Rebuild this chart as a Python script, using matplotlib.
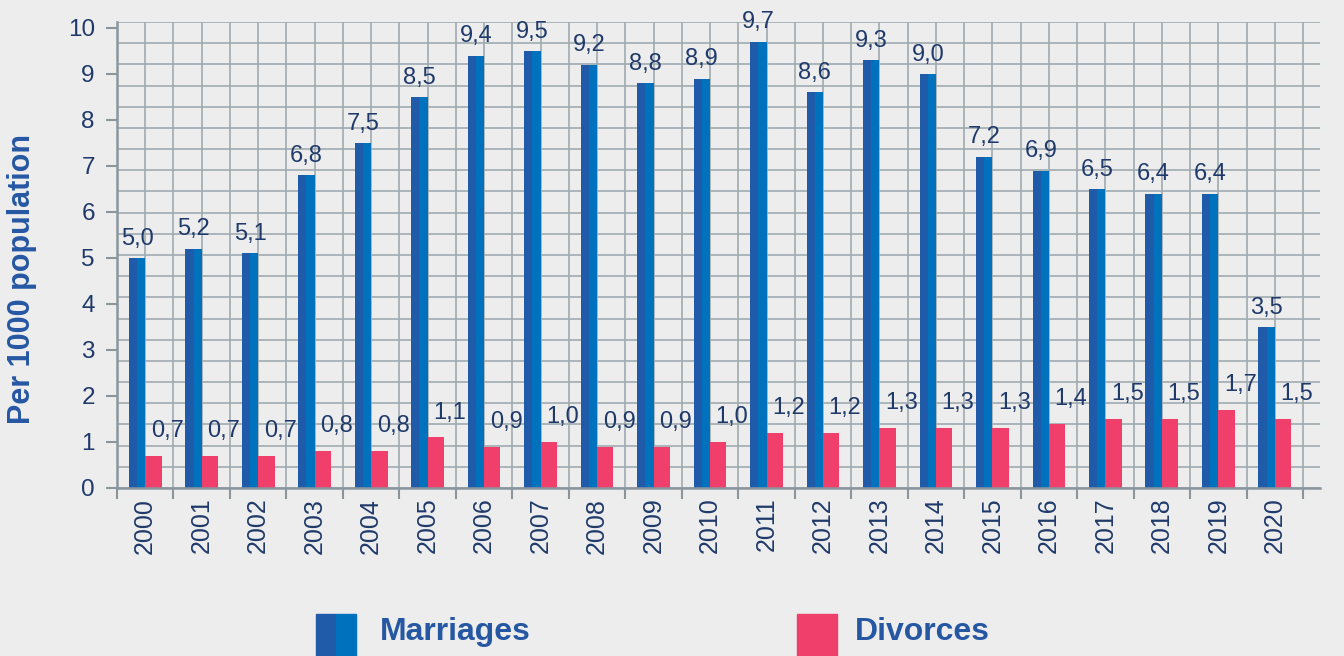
import numpy as np
import matplotlib.pyplot as plt
from matplotlib.patches import Rectangle

years = [str(y) for y in range(2000, 2021)]
marriages = [5.0, 5.2, 5.1, 6.8, 7.5, 8.5, 9.4, 9.5, 9.2, 8.8, 8.9,
             9.7, 8.6, 9.3, 9.0, 7.2, 6.9, 6.5, 6.4, 6.4, 3.5]
divorces = [0.7, 0.7, 0.7, 0.8, 0.8, 1.1, 0.9, 1.0, 0.9, 0.9, 1.0,
            1.2, 1.2, 1.3, 1.3, 1.3, 1.4, 1.5, 1.5, 1.7, 1.5]

plt.rcParams['font.family'] = ['Liberation Sans', 'DejaVu Sans']

bg = '#ededed'
blue_l, blue_r = '#205ba9', '#0071bc'
pink = '#f03f6a'
navy = '#1f3a6a'
grey = '#8a969c'

fig = plt.figure(figsize=(13.44, 6.56), dpi=100, facecolor=bg)
ax = fig.add_axes([117 / 1344, 1 - 488 / 656, (1320 - 117) / 1344, (488 - 22) / 656])
ax.set_facecolor(bg)

x = np.arange(len(years))
w = 0.29
ymax = 10.13

# graph-paper grid
for gx in np.arange(-0.5, 20.8, 0.5):
    ax.axvline(gx, color='#a0aaaf', lw=1.2, zorder=0)
for gy in np.linspace(0, ymax, 23):
    ax.axhline(gy, color='#a0aaaf', lw=1.2, zorder=0)

ax.bar(x - w / 2, marriages, w, color=blue_r, zorder=2)
ax.bar(x - w * 0.75, marriages, w / 2, color=blue_l, zorder=3)
ax.bar(x + w / 2, divorces, w, color=pink, zorder=2)

for xi, m, d in zip(x, marriages, divorces):
    ax.annotate(f'{m:.1f}'.replace('.', ','), (xi - w / 2, m), xytext=(0, 6),
                textcoords='offset points', ha='center', va='bottom',
                fontsize=17, color=navy, zorder=4)
    ax.annotate(f'{d:.1f}'.replace('.', ','), (xi + w / 2, d), xytext=(10, 10),
                textcoords='offset points', ha='center', va='bottom',
                fontsize=17, color=navy, zorder=4)

ax.set_xlim(-0.5, 20.8)
ax.set_ylim(0, ymax)
ax.set_yticks(range(11))
ax.set_yticklabels([str(i) for i in range(11)], fontsize=17.5, color=navy)
ax.set_xticks(x)
ax.set_xticklabels(years, rotation=90, fontsize=18, color=navy)
ax.set_xticks(np.arange(-0.5, 21, 1), minor=True)
ax.tick_params(axis='x', which='major', length=0, pad=7)
ax.tick_params(axis='x', which='minor', length=8, width=1.5, color=grey, direction='out')
ax.tick_params(axis='y', length=8, width=1.5, color=grey, pad=8)

for s in ['top', 'right']:
    ax.spines[s].set_visible(False)
for s in ['left', 'bottom']:
    ax.spines[s].set_color(grey)
    ax.spines[s].set_linewidth(1.8)
    ax.spines[s].set_zorder(5)

fig.text(22 / 1344, 1 - 279 / 656, 'Per 1000 population', rotation=90,
         ha='center', va='center', fontsize=22, fontweight='bold', color='#2657a3')

# legend
W, H = 1344, 656
fig.add_artist(Rectangle((316 / W, 1 - 656 / H), 20 / W, 42 / H,
                         transform=fig.transFigure, color=blue_l))
fig.add_artist(Rectangle((336 / W, 1 - 656 / H), 20 / W, 42 / H,
                         transform=fig.transFigure, color=blue_r))
fig.add_artist(Rectangle((797 / W, 1 - 656 / H), 40 / W, 42 / H,
                         transform=fig.transFigure, color=pink))
fig.text(380 / W, 1 - 632 / H, 'Marriages', ha='left', va='center',
         fontsize=23, fontweight='bold', color='#2657a3')
fig.text(855 / W, 1 - 632 / H, 'Divorces', ha='left', va='center',
         fontsize=23, fontweight='bold', color='#2657a3')

fig.savefig('out.png', dpi=100, facecolor=bg)
